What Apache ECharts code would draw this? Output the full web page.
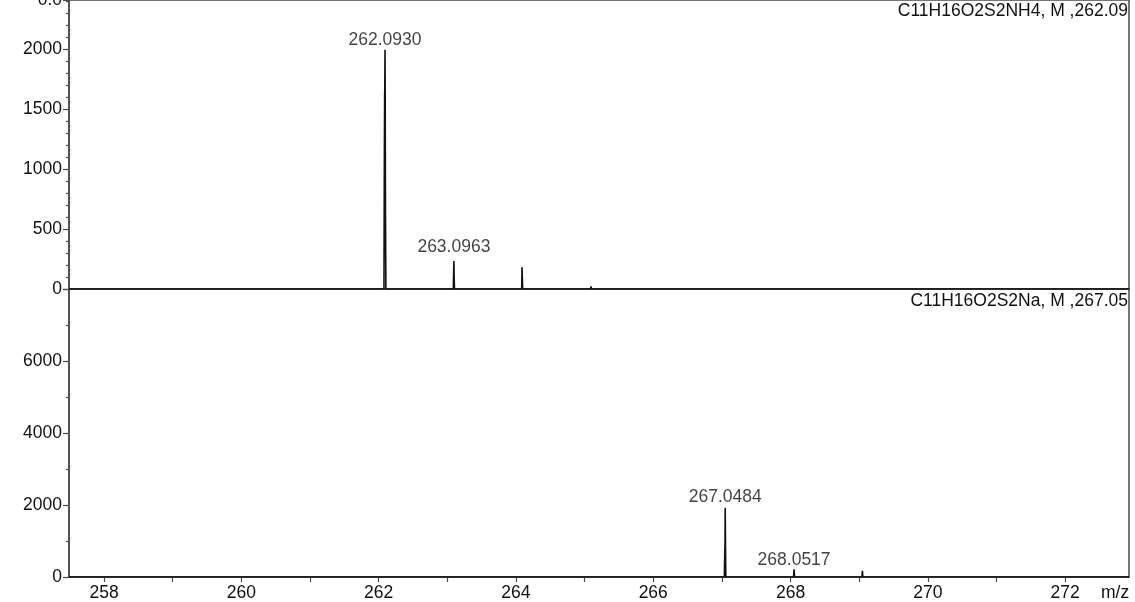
<!DOCTYPE html>
<html>
<head>
<meta charset="utf-8">
<script src="https://cdn.jsdelivr.net/npm/echarts@6/dist/echarts.min.js"></script>
<style>
  html, body { margin: 0; padding: 0; background: #ffffff; }
  #chart { width: 1135px; height: 602px; }
</style>
</head>
<body>
<div id="chart"></div>
<script>
// Shared m/z axis
const mzMin = 257.49;
const mzMax = 272.93;
const mzTickValues = [258, 259, 260, 261, 262, 263, 264, 265, 266, 267, 268, 269, 270, 271, 272];
const mzLabelValues = [258, 260, 262, 264, 266, 268, 270, 272];

// Upper panel: ammonium adduct profile spectrum
const nh4Title = 'C11H16O2S2NH4, M ,262.09';
const nh4Mz = [257.49, 262.078, 262.084, 262.088, 262.090, 262.0930, 262.096, 262.100, 262.106,
               263.088, 263.092, 263.0963, 263.100, 263.105,
               264.084, 264.089, 264.093, 264.098,
               265.088, 265.094, 265.100, 272.93];
const nh4Intensity = [0, 0, 1150, 1620, 1675, 1995, 1560, 620, 0,
                      0, 110, 233, 95, 0,
                      0, 181, 95, 0,
                      0, 22, 0, 0];
const nh4PeakMz = [262.0930, 263.0963];
const nh4PeakIntensity = [1995, 233];
const nh4YMax = 2410;
// the top edge is also the zero line of the trace stacked above it
const nh4TopEdgeLabel = '0.0';

// Lower panel: sodium adduct profile spectrum
const naTitle = 'C11H16O2S2Na, M ,267.05';
const naMz = [257.49, 267.036, 267.042, 267.046, 267.0484, 267.052, 267.057,
              268.044, 268.0517, 268.058,
              269.040, 269.047, 269.053, 272.93];
const naIntensity = [0, 0, 640, 981, 1925, 990, 0,
                     0, 214, 0,
                     0, 175, 0, 0];
const naPeakMz = [267.0484, 268.0517];
const naPeakIntensity = [1925, 214];
const naYMax = 8000;

const FONT = '"Liberation Sans", Arial, Helvetica, sans-serif';
const INK = '#111111';
const AXIS = '#4a4a4a';
const FONT_SIZE = 17.5;

const pairs = (xs, ys) => xs.map((x, i) => [x, ys[i]]);

const chart = echarts.init(document.getElementById('chart'), null, { renderer: 'canvas' });

const labelStyle = { fontFamily: FONT, fontSize: FONT_SIZE, color: INK };

function mzAxis(gridIndex, withLabels) {
  return {
    type: 'value',
    gridIndex,
    min: mzMin,
    max: mzMax,
    axisLine: { show: true, onZero: false, lineStyle: { color: AXIS, width: 1.5 } },
    axisTick: withLabels
      ? { show: true, customValues: mzTickValues, length: 5, lineStyle: { color: AXIS, width: 1.2 } }
      : { show: false },
    axisLabel: withLabels
      ? Object.assign({ show: true, customValues: mzLabelValues, margin: 7 }, labelStyle)
      : { show: false },
    splitLine: { show: false },
    name: withLabels ? 'm/z' : '',
    nameLocation: 'end',
    nameGap: -28,
    nameTextStyle: Object.assign({ align: 'left', verticalAlign: 'top', padding: [7, 0, 0, 0] }, labelStyle)
  };
}

function intensityAxis(gridIndex, max, interval, minorSplit, formatter, showMax) {
  return {
    type: 'value',
    gridIndex,
    min: 0,
    max,
    interval,
    axisLine: { show: true, onZero: false, lineStyle: { color: AXIS, width: 1.5 } },
    axisTick: { show: true, length: 6, lineStyle: { color: AXIS, width: 1.2 } },
    minorTick: { show: true, splitNumber: minorSplit, length: 3, lineStyle: { color: AXIS, width: 1.2 } },
    axisLabel: Object.assign({ margin: 7, formatter, showMaxLabel: showMax }, labelStyle),
    splitLine: { show: false },
    minorSplitLine: { show: false }
  };
}

function profileSeries(idx, xs, ys) {
  return {
    type: 'line',
    xAxisIndex: idx,
    yAxisIndex: idx,
    data: pairs(xs, ys),
    symbol: 'none',
    lineStyle: { color: INK, width: 1.6 },
    silent: true,
    animation: false,
    z: 3
  };
}

// gaps: space in px between each peak apex and its label
function peakLabelSeries(idx, xs, ys, gaps) {
  return {
    type: 'scatter',
    xAxisIndex: idx,
    yAxisIndex: idx,
    data: pairs(xs, ys).map((v, i) => ({ value: v, label: { distance: gaps[i] } })),
    symbol: 'circle',
    symbolSize: 1,
    itemStyle: { color: 'rgba(0,0,0,0)' },
    label: Object.assign({
      show: true,
      position: 'top',
      formatter: p => p.value[0].toFixed(4)
    }, labelStyle),
    silent: true,
    animation: false,
    z: 4
  };
}

const titleStyle = { fontFamily: FONT, fontSize: FONT_SIZE, fontWeight: 'normal', color: INK };

const gridBase = {
  left: 69, right: 6, show: true, borderColor: AXIS, borderWidth: 1.5,
  containLabel: false, outerBoundsMode: 'none'
};

chart.setOption({
  backgroundColor: '#ffffff',
  animation: false,
  title: [
    { text: nh4Title, right: 7, top: 2, padding: 0, textStyle: titleStyle },
    { text: naTitle, right: 7, top: 292, padding: 0, textStyle: titleStyle }
  ],
  grid: [
    Object.assign({ top: 0, height: 289 }, gridBase),
    Object.assign({ top: 289, height: 288 }, gridBase)
  ],
  xAxis: [mzAxis(0, false), mzAxis(1, true)],
  yAxis: [
    intensityAxis(0, nh4YMax, 500, 5, v => (v === nh4YMax ? nh4TopEdgeLabel : String(v)), true),
    intensityAxis(1, naYMax, 2000, 2, v => String(v), false)
  ],
  series: [
    profileSeries(0, nh4Mz, nh4Intensity),
    peakLabelSeries(0, nh4PeakMz, nh4PeakIntensity, [0, 4]),
    profileSeries(1, naMz, naIntensity),
    peakLabelSeries(1, naPeakMz, naPeakIntensity, [1, 0])
  ]
});
</script>
</body>
</html>
